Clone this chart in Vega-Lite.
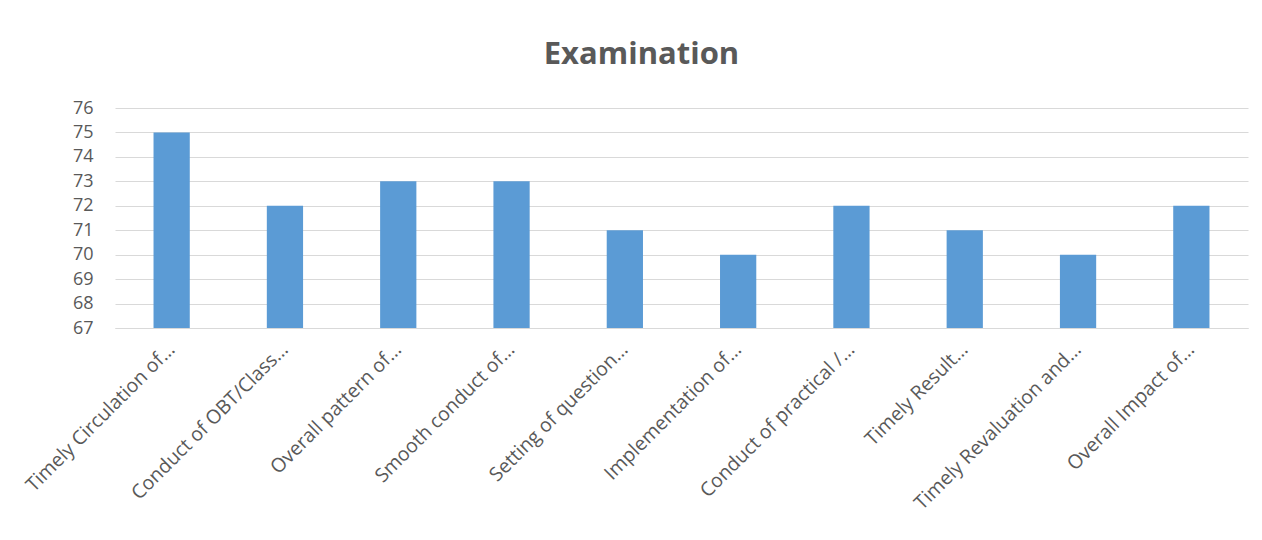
{
  "$schema": "https://vega.github.io/schema/vega-lite/v6.json",
  "autosize": {"type": "none"},
  "padding": {"left": 115, "top": 108, "right": 14, "bottom": 212},
  "width": 1133,
  "height": 220,
  "background": "white",
  "title": {
    "text": "Examination",
    "font": "Open Sans",
    "fontSize": 31,
    "fontWeight": "bold",
    "color": "#595959",
    "anchor": "middle",
    "offset": 28,
    "dx": -40
  },
  "data": {
    "values": [
      {"item": "Timely Circulation of…", "score": 75},
      {"item": "Conduct of OBT/Class…", "score": 72},
      {"item": "Overall pattern of…", "score": 73},
      {"item": "Smooth conduct of…", "score": 73},
      {"item": "Setting of question…", "score": 71},
      {"item": "Implementation of…", "score": 70},
      {"item": "Conduct of practical /…", "score": 72},
      {"item": "Timely Result…", "score": 71},
      {"item": "Timely Revaluation and…", "score": 70},
      {"item": "Overall Impact of…", "score": 72}
    ]
  },
  "mark": {"type": "bar", "color": "#5B9BD5", "clip": true},
  "encoding": {
    "x": {
      "field": "item",
      "type": "nominal",
      "sort": null,
      "title": null,
      "scale": {"paddingInner": 0.68, "paddingOuter": 0.34},
      "axis": {
        "labelAngle": -45,
        "labelAlign": "right",
        "labelBaseline": "middle",
        "labelFont": "Open Sans",
        "labelFontSize": 19.5,
        "labelColor": "#595959",
        "labelPadding": 18,
        "ticks": false,
        "domainColor": "#d9d9d9",
        "domainWidth": 1,
        "labelLimit": 400
      }
    },
    "y": {
      "field": "score",
      "type": "quantitative",
      "title": null,
      "scale": {"domain": [67, 76], "zero": false, "nice": false},
      "axis": {
        "values": [67, 68, 69, 70, 71, 72, 73, 74, 75, 76],
        "labelFont": "Open Sans",
        "labelFontSize": 18,
        "labelColor": "#595959",
        "labelPadding": 22,
        "ticks": false,
        "domain": false,
        "gridColor": "#d9d9d9",
        "gridWidth": 1
      }
    }
  },
  "config": {"view": {"stroke": null}}
}
